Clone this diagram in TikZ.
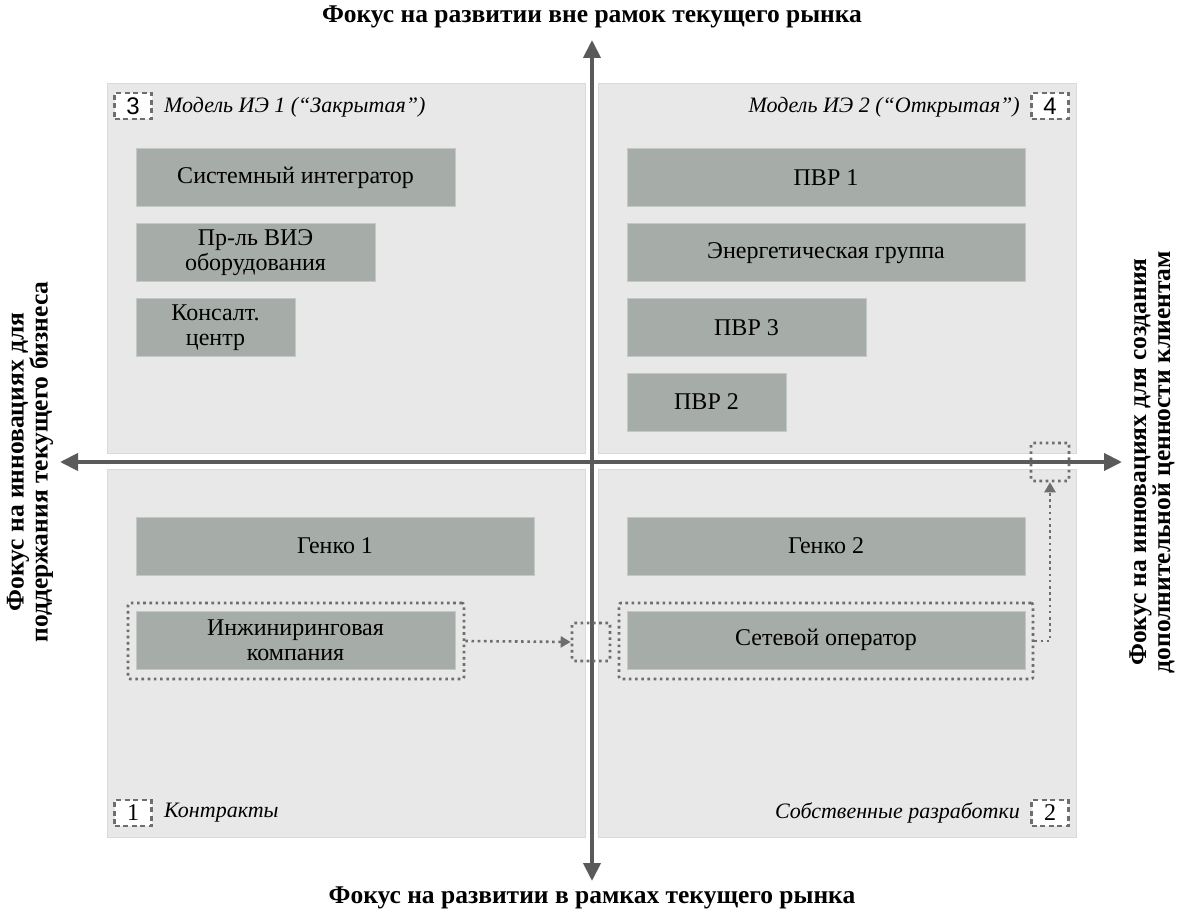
\documentclass[tikz,border=0pt]{standalone}
\usepackage{fontspec}
\setmainfont{Liberation Serif}
\newfontfamily\arialf{Liberation Sans}
\usetikzlibrary{arrows.meta,positioning}
\definecolor{panelc}{HTML}{E8E8E8}
\definecolor{panelb}{HTML}{DADADA}
\definecolor{boxc}{HTML}{A6ACA8}
\definecolor{boxb}{HTML}{C4C8C5}
\definecolor{axisc}{HTML}{5A5A5A}
\definecolor{dotc}{HTML}{6E6E6E}
\tikzset{
  panel/.style={draw=panelb, line width=1pt, fill=panelc},
  gbox/.style={draw=boxb, line width=1pt, fill=boxc, font=\fontsize{24}{25}\selectfont, align=center, inner sep=0pt},
  dotframe/.style={draw=dotc, line width=2.6pt, dash pattern=on 2.6pt off 3.6pt, rounded corners=2pt},
  numbox/.style={draw=dotc, fill=white, line width=2.2pt, dash pattern=on 5pt off 3.5pt, minimum width=37pt, minimum height=26pt, inner sep=0pt, font=\fontsize{24}{25}\selectfont},
  qlabel/.style={font=\fontsize{22}{24}\selectfont\itshape, inner sep=0pt},
  axislabel/.style={font=\fontsize{25.5}{24}\selectfont\bfseries, align=center, inner sep=0pt},
  axis/.style={draw=axisc, line width=4pt, {Triangle[length=18pt,width=17pt]}-{Triangle[length=18pt,width=17pt]}},
  darrow/.style={draw=dotc, line width=2.6pt, dash pattern=on 2.6pt off 3.6pt, -{Triangle[length=10pt,width=11pt]}},
}
\begin{document}
\begin{tikzpicture}[x=1pt,y=-1pt]
\useasboundingbox (0,0) rectangle (1183,917);
% panels
\draw[panel] (107,84) rectangle (585,453);
\draw[panel] (598,84) rectangle (1076,453);
\draw[panel] (107,469) rectangle (585,837);
\draw[panel] (598,469) rectangle (1076,837);
% corner labels
\node[numbox] (n3) at (133,106) {\arialf 3};
\node[qlabel, anchor=west] (l3) at (164,107) {Модель ИЭ 1 (“Закрытая”)};
\node[numbox] (n4) at (1050,106) {\arialf 4};
\node[qlabel, anchor=east] (l4) at (1020,107) {Модель ИЭ 2 (“Открытая”)};
\node[numbox] (n1) at (133,813) {1};
\node[qlabel, anchor=west] (l1) at (164,813) {Контракты};
\node[numbox] (n2) at (1050,813) {2};
\node[qlabel, anchor=east] (l2) at (1020,813) {Собственные разработки};
% boxes top-left
\node[gbox, minimum width=319pt, minimum height=58pt] (si) at (295.5,178) {Системный интегратор};
\node[gbox, minimum width=239pt, minimum height=58pt] (pr) at (255.5,253) {Пр-ль ВИЭ\\оборудования};
\node[gbox, minimum width=159pt, minimum height=57pt] (kc) at (215.5,327.5) {Консалт.\\центр};
% boxes top-right
\node[gbox, minimum width=398pt, minimum height=58pt] (pvr1) at (826,178) {ПВР 1};
\node[gbox, minimum width=398pt, minimum height=58pt] (eg) at (826,253) {Энергетическая группа};
\node[gbox, minimum width=239pt, minimum height=57pt] (pvr3) at (746.5,327.5) {ПВР 3};
\node[gbox, minimum width=159pt, minimum height=58pt] (pvr2) at (706.5,402) {ПВР 2};
% boxes bottom
\node[gbox, minimum width=398pt, minimum height=58pt] (g1) at (335,546) {Генко 1};
\node[gbox, minimum width=319pt, minimum height=58pt] (ik) at (295.5,640) {Инжиниринговая\\компания};
\node[gbox, minimum width=398pt, minimum height=58pt] (g2) at (826,546) {Генко 2};
\node[gbox, minimum width=398pt, minimum height=58pt] (so) at (826,640) {Сетевой оператор};
% dotted frames
\node[dotframe, minimum width=336pt, minimum height=76pt, inner sep=0pt] (f1) at (296,641) {};
\node[dotframe, minimum width=414pt, minimum height=76pt, inner sep=0pt] (f2) at (826,641) {};
% axes
\coordinate (vt) at (592,40);
\coordinate (vb) at (592,881);
\coordinate (hl) at (60,462);
\coordinate (hr) at (1122,462);
\draw[axis] (hl) -- (hr);
\draw[axis] (vb) -- (vt);
% target dotted boxes
\node[dotframe, minimum width=38pt, minimum height=38pt, inner sep=0pt] (c1) at (591,642) {};
\node[dotframe, minimum width=38pt, minimum height=38pt, inner sep=0pt] (c2) at (1050,462) {};
% dotted arrows
\draw[darrow] (f1.east) -- (c1.west);
\draw[darrow] (f2.east) -| (c2.south);
% axis labels
\node[axislabel] (at) at (592,17) {Фокус на развитии вне рамок текущего рынка};
\node[axislabel] (ab) at (592,898) {Фокус на развитии в рамках текущего рынка};
\node[axislabel, rotate=90] (al) at (30,462) {Фокус на инновациях для\\поддержания текущего бизнеса};
\node[axislabel, rotate=90] (ar) at (1152,462) {Фокус на инновациях для создания\\дополнительной ценности клиентам};
\end{tikzpicture}
\end{document}
